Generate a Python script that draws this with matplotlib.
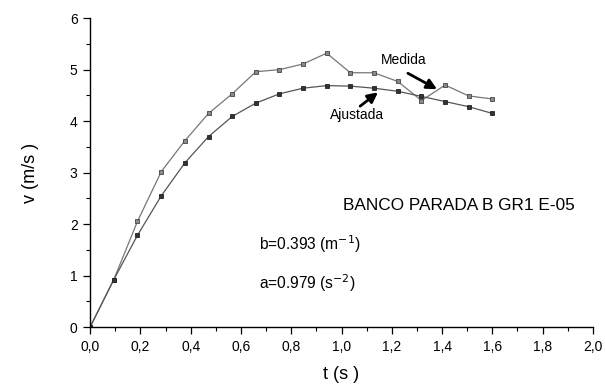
import matplotlib.pyplot as plt
from matplotlib.ticker import MultipleLocator, FuncFormatter

plt.rcParams['font.family'] = ['Liberation Sans', 'DejaVu Sans']

# datos
t = [0.0, 0.094, 0.188, 0.283, 0.377, 0.471, 0.565, 0.659, 0.753, 0.847,
     0.941, 1.035, 1.129, 1.224, 1.318, 1.412, 1.506, 1.600]
v_medida = [0.0, 0.92, 2.05, 3.02, 3.62, 4.15, 4.53, 4.96, 5.00, 5.11,
            5.32, 4.94, 4.94, 4.77, 4.40, 4.70, 4.49, 4.43]
v_ajustada = [0.0, 0.92, 1.78, 2.55, 3.19, 3.70, 4.09, 4.35, 4.53, 4.64,
              4.69, 4.68, 4.64, 4.58, 4.48, 4.38, 4.28, 4.15]

fig = plt.figure(figsize=(6.05, 3.87), dpi=100)
ax = fig.add_axes([0.149, 0.155, 0.831, 0.798])

ax.plot(t, v_medida, color='#777777', lw=0.9, marker='s', ms=3.2,
        mfc='#8a8a8a', mec='#444444', mew=0.6)
ax.plot(t, v_ajustada, color='#555555', lw=0.9, marker='s', ms=3.2,
        mfc='#333333', mec='#222222', mew=0.6)

ax.set_xlim(0, 2.0)
ax.set_ylim(0, 6)
ax.xaxis.set_major_locator(MultipleLocator(0.2))
ax.xaxis.set_minor_locator(MultipleLocator(0.1))
ax.yaxis.set_major_locator(MultipleLocator(1))
ax.yaxis.set_minor_locator(MultipleLocator(0.5))
ax.xaxis.set_major_formatter(FuncFormatter(lambda x, p: f'{x:.1f}'.replace('.', ',')))
ax.tick_params(which='major', length=5, width=0.9, labelsize=10,
               direction='out', pad=4)
ax.tick_params(which='minor', length=3, width=0.8, direction='out')

for s in ['top', 'right']:
    ax.spines[s].set_visible(False)
for s in ['left', 'bottom']:
    ax.spines[s].set_linewidth(1.0)

ax.set_xlabel('t (s )', fontsize=13, labelpad=9)
ax.set_ylabel('v (m/s )', fontsize=13, labelpad=22)

ax.text(1.006, 2.37, 'BANCO PARADA B GR1 E-05', fontsize=12.4, va='center')
ax.text(0.67, 1.61, 'b=0.393 (m$^{-1}$)', fontsize=11.2, va='center')
ax.text(0.67, 0.85, 'a=0.979 (s$^{-2}$)', fontsize=11.2, va='center')

# flechas de las etiquetas
arrow = dict(arrowstyle='-|>,head_length=0.6,head_width=0.3', color='black',
             lw=2.0, shrinkA=0, shrinkB=0)
ax.text(1.249, 5.18, 'Medida', fontsize=10, ha='center', va='center')
ax.annotate('', xy=(1.380, 4.62), xytext=(1.264, 4.93), arrowprops=arrow)
ax.text(1.062, 4.12, 'Ajustada', fontsize=10, ha='center', va='center')
ax.annotate('', xy=(1.145, 4.56), xytext=(1.074, 4.29), arrowprops=arrow)

fig.savefig('out.png', dpi=100)
